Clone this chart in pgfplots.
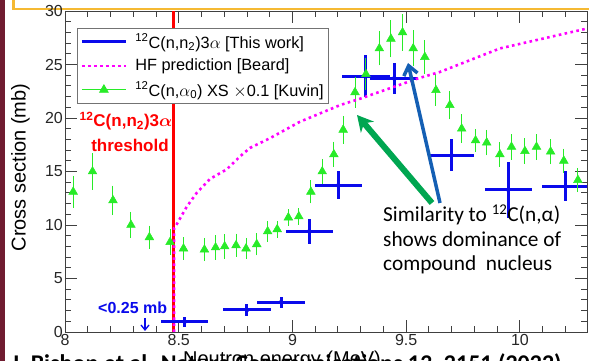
\documentclass[border=0pt]{standalone}
\usepackage{fontspec}
\setmainfont{Liberation Sans}
\newfontfamily\calibri{Carlito}
\usepackage{pgfplots}
\pgfplotsset{compat=1.18}
\usepackage{pgfplotstable}
\usetikzlibrary{arrows.meta}

\newcommand\legfont{\fontsize{16.3}{19}\selectfont}
\newcommand\tickfont{\fontsize{16}{19}\selectfont}

\definecolor{kgreen}{RGB}{40,235,40}
\definecolor{hfmag}{RGB}{255,0,255}
\definecolor{twblue}{RGB}{10,10,235}
\definecolor{arrgreen}{RGB}{0,166,81}
\definecolor{arrblue}{RGB}{20,95,180}
\definecolor{slidemaroon}{RGB}{112,28,48}
\definecolor{slideorange}{RGB}{245,185,50}

\pgfplotstableread{
E sig err
8.036 13.1 1.3
8.121 15.0 1.5
8.211 12.3 1.2
8.290 10.0 1.05
8.371 8.85 0.9
8.462 8.4 1.0
8.521 7.8 0.85
8.613 7.7 0.9
8.662 7.9 0.95
8.702 8.0 0.95
8.752 8.1 0.9
8.796 7.8 0.8
8.843 8.2 0.85
8.891 9.4 0.8
8.933 9.6 0.6
8.982 10.7 0.6
9.028 10.8 0.6
9.081 13.1 0.9
9.131 15.0 1.0
9.182 16.6 1.0
9.223 18.9 1.1
9.275 22.4 1.25
9.323 24.1 1.3
9.382 26.5 1.4
9.433 27.4 1.55
9.484 28.0 1.55
9.531 26.5 1.5
9.582 25.7 1.4
9.631 22.6 1.3
9.692 21.2 1.15
9.744 19.0 1.15
9.805 17.9 0.9
9.854 17.7 1.0
9.912 16.6 0.95
9.963 17.3 1.0
10.022 16.9 1.0
10.073 17.3 1.0
10.135 16.85 1.0
10.193 16.0 0.95
10.255 14.2 0.95
}\kuvin

\pgfplotstableread{
E sig ex ey
8.526 0.96 0.104 0.45
8.800 2.06 0.104 0.6
8.950 2.78 0.105 0.5
9.074 9.4 0.103 1.2
9.201 13.7 0.104 1.3
9.323 23.9 0.104 1.95
9.447 23.7 0.104 1.45
9.700 16.5 0.097 1.5
9.949 13.3 0.104 2.6
10.201 13.6 0.104 1.4
}\thiswork

\pgfplotstableread{
E sig
8.479 0
8.479 9.7
8.484 9.8
8.535 11.7
8.579 13.0
8.637 14.3
8.711 15.2
8.769 16.4
8.813 17.2
8.900 18.1
9.033 19.65
9.209 21.2
9.297 21.8
9.552 23.7
9.648 24.3
9.912 26.5
10.303 28.4
}\hf

\begin{document}
\begin{tikzpicture}[x=1pt,y=1pt]
% slide decorations (pixel coords: x, 361-y)
\fill[slidemaroon] (0,0) rectangle (4.5,361);
\draw[slideorange, line width=2.5pt] (13.5,363) -- (13.5,352) -- (592,352);

\begin{axis}[
  at={(65pt,29pt)}, anchor=south west,
  scale only axis, width=522pt, height=321pt,
  xmin=8, xmax=10.295, ymin=0, ymax=30,
  xtick={8,8.5,9,9.5,10},
  minor xtick={8.1,8.2,8.3,8.4,8.6,8.7,8.8,8.9,9.1,9.2,9.3,9.4,9.6,9.7,9.8,9.9,10.1,10.2},
  ytick={0,5,10,15,20,25,30},
  minor y tick num=4,
  major tick length=12pt, minor tick length=6pt,
  tick align=inside,
  axis line style={black!75, line width=0.9pt},
  every tick/.style={black!75, line width=0.9pt},
  tick label style={font=\tickfont, text=black!85},
  yticklabel style={inner xsep=2pt},
  xticklabel style={inner ysep=2.5pt},
  /pgf/number format/assume math mode=true,
  legend style={at={(0.023,0.947)}, anchor=north west, draw=black!55,
    line width=0.8pt, fill=white, font=\legfont,
    inner xsep=3pt, inner ysep=3.5pt, row sep=5.5pt,
    nodes={inner ysep=2pt}},
  legend cell align=left,
]
\addplot[red, line width=3pt, forget plot] coordinates {(8.479,0) (8.479,30)};

\addplot[only marks, mark=none, twblue, forget plot,
  error bars/.cd, x dir=both, x explicit, y dir=both, y explicit,
  error bar style={line width=3pt, twblue}, error mark=none]
  table[x=E, y=sig, x error=ex, y error=ey] {\thiswork};

\addplot[only marks, mark=triangle*, mark size=5pt, kgreen, forget plot,
  mark options={fill=kgreen, draw=kgreen, line width=0.5pt},
  error bars/.cd, y dir=both, y explicit,
  error bar style={line width=1pt, kgreen},
  error mark options={mark size=2pt, line width=1pt, kgreen}]
  table[x=E, y=sig, y error=err] {\kuvin};

\addplot[hfmag, line width=2.6pt, dash pattern=on 2.6pt off 3.4pt, forget plot]
  table[x=E, y=sig] {\hf};

\addlegendimage{legend image code/.code={\draw[twblue, line width=3pt] (0pt,0pt) -- (44pt,0pt);}}
\addlegendentry{\legfont\hspace*{6pt}\textsuperscript{12}C(n,n\textsubscript{2})3$\alpha$ [This work]}
\addlegendimage{legend image code/.code={\draw[hfmag, line width=2.6pt, dash pattern=on 2.6pt off 3.4pt] (0pt,0pt) -- (44pt,0pt);}}
\addlegendentry{\legfont\hspace*{6pt}HF prediction [Beard]}
\addlegendimage{legend image code/.code={\draw[kgreen, line width=1pt] (0pt,0pt) -- (44pt,0pt);
   \fill[kgreen] (22pt,5pt) -- (17.7pt,-2.5pt) -- (26.3pt,-2.5pt) -- cycle;}}
\addlegendentry{\legfont\hspace*{6pt}\textsuperscript{12}C(n,$\alpha$\textsubscript{0}) XS $\times$0.1 [Kuvin]}
\end{axis}

% annotations
\node[red, font=\bfseries\fontsize{17}{20}\selectfont, anchor=base] at (126,234.3)
  {\textsuperscript{12}C(n,n\textsubscript{2})3{\boldmath$\alpha$}};
\node[red, font=\bfseries\fontsize{17}{20}\selectfont, anchor=base] at (130,209.3) {threshold};
\node[twblue, font=\bfseries\fontsize{16}{19}\selectfont, anchor=base] at (132.7,47.7) {<0.25 mb};
\draw[twblue, line width=1.3pt, -{Straight Barb[length=5pt, width=8pt]}] (145,43) -- (145,30);

\draw[arrgreen, line width=6pt, -{Stealth[length=16pt, width=17pt]}] (432,158) -- (357,246);
\draw[arrblue, line width=3.5pt, -{Straight Barb[length=9pt, width=14pt]}] (440,158) -- (408,298);

\node[font=\calibri\fontsize{21.3}{24.5}\selectfont, anchor=base west, align=left, inner sep=0pt] at (383,90.3)
  {Similarity to \textsuperscript{12}C(n,α)\\shows dominance of\\compound\ \ nucleus};

\node[rotate=90, anchor=base, font=\fontsize{20}{24}\selectfont] at (25.5,193.5) {Cross section (mb)};
\node[anchor=base, font=\fontsize{20}{24}\selectfont] at (282,-5) {Neutron energy (MeV)};
\node[anchor=base west, inner sep=0pt, font=\calibri\bfseries\fontsize{24}{28}\selectfont] at (11,-11)
  {J. Bishop et al. Nature Communications 13, 2151 (2022)};

\pgfresetboundingbox
\useasboundingbox (0,0) rectangle (589,361);
\end{tikzpicture}
\end{document}
